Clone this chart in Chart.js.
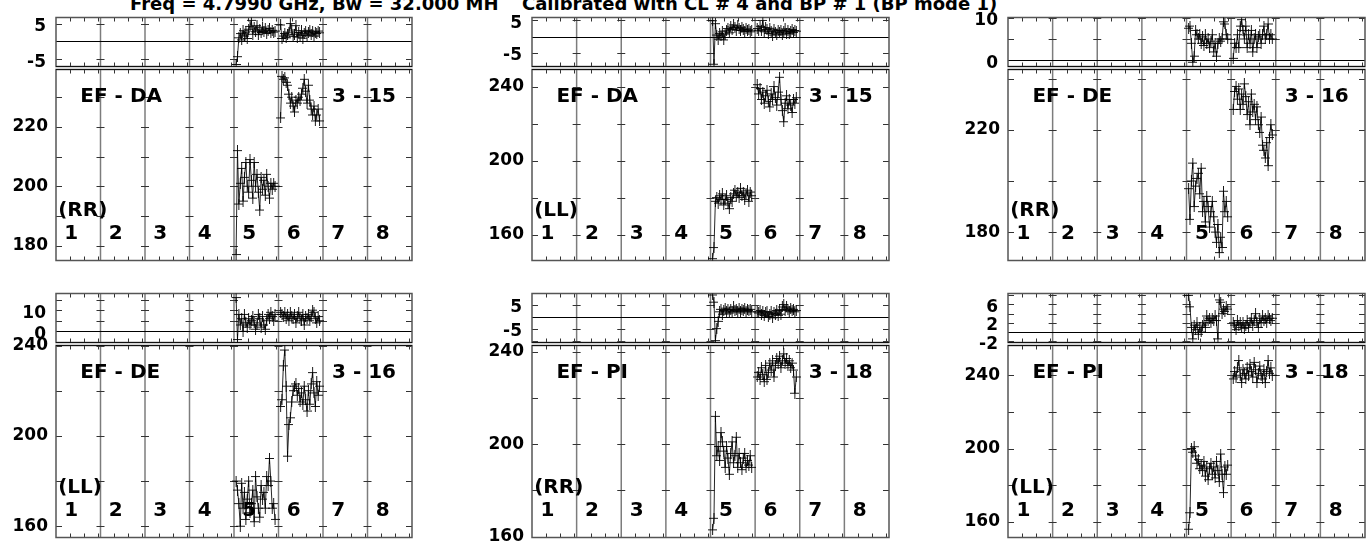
<!DOCTYPE html>
<html>
<head>
<meta charset="utf-8">
<script src="https://cdn.jsdelivr.net/npm/chart.js@4.4.1/dist/chart.umd.min.js"></script>
<style>
  html, body { margin: 0; padding: 0; background: #fff; }
  #wrap { position: relative; width: 1372px; height: 550px; overflow: hidden; background: #fff; }
  #wrap canvas { position: absolute; }
  .title { position: absolute; top: -5px; font: bold 18px 'DejaVu Sans'; line-height: 18px; white-space: pre; color: #000; }
</style>
</head>
<body>
<div id="wrap">
  <div class="title" id="t1" style="left:130px">Freq = 4.7990 GHz, Bw = 32.000 MH</div>
  <div class="title" id="t2" style="left:522px">Calibrated with CL # 4 and BP # 1 (BP mode 1)</div>
</div>
<script>
// ---------------- DATA ----------------
const channels = [2,3,4,5,6,7,8,9,10,11,12,13,14,15,16,17,18,19,20,21,22,23,24,25,26,27,28,29,30];
const ifLabels = ['1','2','3','4','5','6','7','8'];
const baselines = ['EF - DA','EF - DA','EF - DE','EF - DE','EF - PI','EF - PI'];
const timeLabels = ['3 - 15','3 - 15','3 - 16','3 - 16','3 - 18','3 - 18'];
const polLabels = ['(RR)','(LL)','(RR)','(LL)','(RR)','(LL)'];

// tick label values (main and residual panels)
const mainTickLabels = [[220,200,180],[240,200,160],[220,180],[240,200,160],[240,200,160],[240,200,160]];
const resTickLabels  = [[5,-5],[5,-5],[10,0],[10,0],[5,-5],[6,2,-2]];

// Panel 1: EF - DA (RR)
const p1MainIF5 = [177,212,194,201,206,195,203,208,200,198,209,202,196,208,200,204,198,192,203,199,202,197,204,200,196,201,199,201,200];
const p1MainIF6 = [223,237,236,236.5,235,234,231,228,230,227,225,229,228,230,229,231,233,236,232,228,234,229,226,224,227,222,224,226,222];
const p1ResIF5  = [-6.5,-4.3,1.0,2.2,0.4,3.0,1.5,2.6,0.8,3.4,4.2,5.9,2.0,3.8,2.7,4.4,1.9,3.2,2.5,4.0,2.8,3.5,2.2,3.0,3.6,2.4,3.1,2.6,2.9];
const p1ResIF6  = [4.6,0.8,1.5,2.2,1.0,1.8,2.6,5.0,3.2,1.4,2.0,4.4,1.2,2.5,1.7,3.0,0.9,2.3,2.8,1.6,2.4,3.1,2.0,2.7,1.5,2.6,2.2,2.9,2.4];

// Panel 2: EF - DA (LL)
const p2MainIF5 = [147,153,178,180,177,181,179,182,176,179,181,177,174,180,178,182,184,181,183,180,185,181,183,179,182,184,178,183,181];
const p2MainIF6 = [241,236,239,233,237,231,235,238,232,229,236,233,240,234,230,237,245,233,227,221,231,235,228,233,230,226,233,231,234];
const p2ResIF5  = [4.9,-8.5,4.0,0.5,-0.8,1.0,0.2,1.5,-1.0,0.8,1.8,2.5,1.2,3.0,2.2,3.6,2.8,2.0,3.3,2.6,1.9,2.9,2.2,1.6,2.4,1.8,2.1,1.5,2.0];
const p2ResIF6  = [2.5,1.8,3.2,2.0,5.0,1.5,2.8,2.2,1.0,2.6,1.7,0.5,2.3,1.4,0.8,2.0,1.2,1.9,0.6,1.5,2.4,1.1,1.8,0.9,1.6,2.2,1.3,1.9,1.7];

// Panel 3: EF - DE (RR)
const p3MainIF5 = [197,185,200,207,190,198,201,203,195,205,188,192,184,194,190,182,188,192,186,180,176,183,172,178,174,196,188,192,186];
const p3MainIF6 = [228,235,237,232,236,228,234,230,238,233,226,231,222,234,227,230,224,229,222,219,225,214,212,209,215,206,217,222,218];
const p3ResIF5  = [7.5,8.0,4.0,-0.4,1.0,7.0,6.0,5.0,6.0,4.0,5.5,3.5,6.0,4.0,5.0,3.0,4.5,6.0,2.0,4.0,1.0,4.0,5.0,4.5,5.0,9.0,8.5,6.0,5.0];
const p3ResIF6  = [0.5,4.0,3.0,6.0,3.0,8.0,9.5,7.0,5.0,8.0,3.0,6.0,4.0,7.0,2.0,5.0,6.0,3.0,5.5,6.0,4.0,6.0,8.0,5.0,6.0,8.5,5.0,6.0,5.0];

// Panel 4: EF - DE (LL)
const p4MainIF5 = [180,176,170,160,179,168,175,163,172,180,166,170,176,162,182,173,168,164,178,172,175,168,182,178,190,180,168,170,163];
const p4MainIF6 = [213,216,231,238,222,191,205,208,215,220,222,223,218,221,215,219,214,222,216,211,220,214,223,228,219,213,224,218,222];
const p4ResIF5  = [16,-3.9,8,3,6,0,8,4,2,6,3,5,7,4,1,3,8,6,2,7,3,1,5,8,6,9,7,5,8];
const p4ResIF6  = [9,8,7,9,6,8,5,9,7,6,8,4,7,9,6,5,8,3,7,6,8,5,7,10,9,6,4,7,5];

// Panel 5: EF - PI (RR)
const p5MainIF5 = [163,168,212,195,199,193,205,201,197,190,199,194,187,196,201,192,195,203,190,196,192,189,194,196,190,193,191,195,190];
const p5MainIF6 = [229,231,228,233,230,227,234,228,231,235,232,236,229,234,237,235,238,233,236,239,235,237,234,236,233,235,232,222,229];
const p5ResIF5  = [9,6,-10,-5,-2,2,3,1,2.5,3.5,2,3,1.5,3,2,4,2.5,3,2,3.5,2,3,2.5,3.5,2,3,2.5,3,2];
const p5ResIF6  = [2,1.5,2.5,1,2,0.5,1.5,2,0,1,2,-0.5,1.5,1,2.5,0.5,3,1,4,5,2.5,4,3,2,3.5,2.5,3,2,2.5];

// Panel 6: EF - PI (LL)
const p6MainIF5 = [156,165,200,198,201,196,192,194,189,191,188,193,185,190,183,189,192,186,190,184,193,188,182,197,186,176,190,186,191];
const p6MainIF6 = [238,242,239,244,248,240,236,243,241,238,244,240,246,242,239,247,243,236,241,245,240,238,243,236,242,248,241,244,240];
const p6ResIF5  = [8,5.5,1,-1.5,1.5,0.5,2,-0.5,1,0,1.5,2,1,3.5,2.5,3,2,3,2.5,3.5,2.5,-1.5,7,6.5,4,5,4.5,5.5,5];
const p6ResIF6  = [2,1.5,0.5,2.5,1.5,2,1,2,0.8,1.5,2.5,1,2,3,1.5,2.5,4,2,1,3,2,3.5,2.5,3,2,3.5,3,2.5,3];

const mainIF5 = [p1MainIF5,p2MainIF5,p3MainIF5,p4MainIF5,p5MainIF5,p6MainIF5];
const mainIF6 = [p1MainIF6,p2MainIF6,p3MainIF6,p4MainIF6,p5MainIF6,p6MainIF6];
const resIF5  = [p1ResIF5,p2ResIF5,p3ResIF5,p4ResIF5,p5ResIF5,p6ResIF5];
const resIF6  = [p1ResIF6,p2ResIF6,p3ResIF6,p4ResIF6,p5ResIF6,p6ResIF6];

// axis ranges
const mainRange = [[175,239.3],[146,249.2],[168.9,243.6],[155,240],[159.7,242.6],[151.5,256.2]];
const mainStep  = [10,20,20,20,20,20];
const resRange  = [[-7.07,6.7],[-9.2,5.9],[-1.4,10],[-5.3,17.9],[-10.8,9.6],[-2.3,8.4]];
const resStep   = [5,5,5,5,5,2];

// ---------------- LAYOUT ----------------
const CH_PER_IF = 32, N_IF = 8;
const colLeft = [56, 532, 1008];
const colW = [356, 357, 357];
const rowTop = [15, 291];
const resH = [54, 54];
const mainH = [192, 193];
const AXW = 60, PADV = 16, PADR = 10;
const FONT = 'DejaVu Sans';

function plusImage(w, h, color) {
  const c = document.createElement('canvas');
  c.width = w; c.height = h;
  const g = c.getContext('2d');
  g.strokeStyle = color; g.lineWidth = 1;
  g.beginPath();
  g.moveTo(0, Math.floor(h / 2) + 0.5); g.lineTo(w, Math.floor(h / 2) + 0.5);
  g.moveTo(Math.floor(w / 2) + 0.5, 0); g.lineTo(Math.floor(w / 2) + 0.5, h);
  g.stroke();
  return c;
}
const plus = plusImage(9, 11, 'rgba(0,0,0,0.9)');

function pts(ifIndex, vals) {
  const start = ifIndex * CH_PER_IF;
  return vals.map((v, i) => ({ x: start + channels[i] - 0.5, y: v }));
}

const framePlugin = {
  id: 'frame',
  beforeDatasetsDraw(chart, args, opts) {
    const { ctx, chartArea: a, scales: { x, y } } = chart;
    const ln = (x1, y1, x2, y2) => { ctx.beginPath(); ctx.moveTo(x1, y1); ctx.lineTo(x2, y2); ctx.stroke(); };
    ctx.save();
    ctx.strokeStyle = '#7c7c7c'; ctx.lineWidth = 1.5;
    const bounds = [];
    for (let k = 1; k < N_IF; k++) {
      const px = x.getPixelForValue(k * CH_PER_IF);
      bounds.push(px);
      ln(px, a.top, px, a.bottom);
    }
    ctx.strokeStyle = '#333'; ctx.lineWidth = 1;
    for (let k = 0; k < N_IF; k++) {
      for (const c of [10, 20, 30]) {
        const px = Math.round(x.getPixelForValue(k * CH_PER_IF + c)) + 0.5;
        ln(px, a.top, px, a.top + 4);
        ln(px, a.bottom - 4, px, a.bottom);
      }
    }
    for (const t of y.ticks) {
      const py = Math.round(y.getPixelForValue(t.value)) + 0.5;
      if (py < a.top + 1 || py > a.bottom - 1) continue;
      ln(a.left, py, a.left + 6, py);
      ln(a.right - 6, py, a.right, py);
      for (const bx of bounds) ln(bx - 4, py, bx + 4, py);
    }
    if (opts.zero) {
      const py = Math.round(y.getPixelForValue(0)) + 0.5;
      ctx.strokeStyle = '#000'; ctx.lineWidth = 1;
      ln(a.left, py, a.right, py);
    }
    ctx.strokeStyle = '#555'; ctx.lineWidth = 1.5;
    ctx.strokeRect(a.left, a.top, a.width, a.height);
    ctx.strokeStyle = '#111'; ctx.lineWidth = 1.2;
    if (opts.zero) ln(a.left, a.bottom, a.right, a.bottom); else ln(a.left, a.top, a.right, a.top);
    ctx.restore();
  }
};

const labelPlugin = {
  id: 'labels',
  afterDatasetsDraw(chart, args, opts) {
    if (!opts.on) return;
    const { ctx, chartArea: a, scales: { x } } = chart;
    ctx.save();
    ctx.fillStyle = '#000';
    ctx.font = 'bold 20px ' + FONT;
    ctx.textBaseline = 'alphabetic';
    ctx.textAlign = 'left';
    ctx.fillText(opts.baseline, x.getPixelForValue(17.5), a.top + 25 + 7.3);
    ctx.fillText(opts.time, x.getPixelForValue(198.5), a.top + 25 + 7.3);
    ctx.fillText(opts.pol, x.getPixelForValue(1.6), a.bottom - 52 + 7.3);
    ctx.textAlign = 'center';
    ifLabels.forEach((lab, k) => {
      ctx.fillText(lab, x.getPixelForValue(k * CH_PER_IF + 11), a.bottom - 29 + 7.3);
    });
    ctx.restore();
  }
};

function makeChart(left, top, w, h, ds5, ds6, range, step, labels, isRes, p) {
  const cv = document.createElement('canvas');
  cv.width = w + AXW + PADR;
  cv.height = h + 2 * PADV;
  cv.style.left = (left - AXW) + 'px';
  cv.style.top = (top - PADV) + 'px';
  document.getElementById('wrap').appendChild(cv);
  const dsStyle = {
    borderColor: 'rgba(0,0,0,0.85)', borderWidth: 1, tension: 0,
    pointStyle: plus, pointRadius: 5, pointHoverRadius: 5, fill: false
  };
  return new Chart(cv, {
    type: 'line',
    data: { datasets: [
      Object.assign({ data: ds5 }, dsStyle),
      Object.assign({ data: ds6 }, dsStyle)
    ] },
    options: {
      responsive: false, animation: false, events: [],
      layout: { padding: { top: PADV, bottom: PADV, left: 0, right: PADR } },
      plugins: {
        legend: { display: false }, tooltip: { enabled: false },
        frame: { zero: isRes },
        labels: isRes ? { on: false } : { on: true, baseline: baselines[p], time: timeLabels[p], pol: polLabels[p] }
      },
      scales: {
        x: { type: 'linear', min: 0, max: CH_PER_IF * N_IF, display: false },
        y: {
          type: 'linear', min: range[0], max: range[1],
          afterFit: s => { s.width = AXW; },
          grid: { display: false, drawTicks: false },
          border: { display: false },
          ticks: {
            stepSize: step, autoSkip: false, includeBounds: false,
            padding: isRes ? 10 : 8, color: '#000',
            labelOffset: isRes ? 3 : 0,
            font: { family: FONT, weight: 'bold', size: 17, lineHeight: 1 },
            callback: v => labels.some(l => Math.abs(l - v) < 1e-6) ? String(Math.round(v)) : ''
          }
        }
      }
    },
    plugins: [framePlugin, labelPlugin]
  });
}

for (let p = 0; p < 6; p++) {
  const col = p % 3, row = Math.floor(p / 3);
  const left = colLeft[col], w = colW[col];
  const rt = rowTop[row];
  makeChart(left, rt, w, resH[row], pts(4, resIF5[p]), pts(5, resIF6[p]), resRange[p], resStep[p], resTickLabels[p], true, p);
  makeChart(left, rt + resH[row], w, mainH[row], pts(4, mainIF5[p]), pts(5, mainIF6[p]), mainRange[p], mainStep[p], mainTickLabels[p], false, p);
}
</script>
</body>
</html>
